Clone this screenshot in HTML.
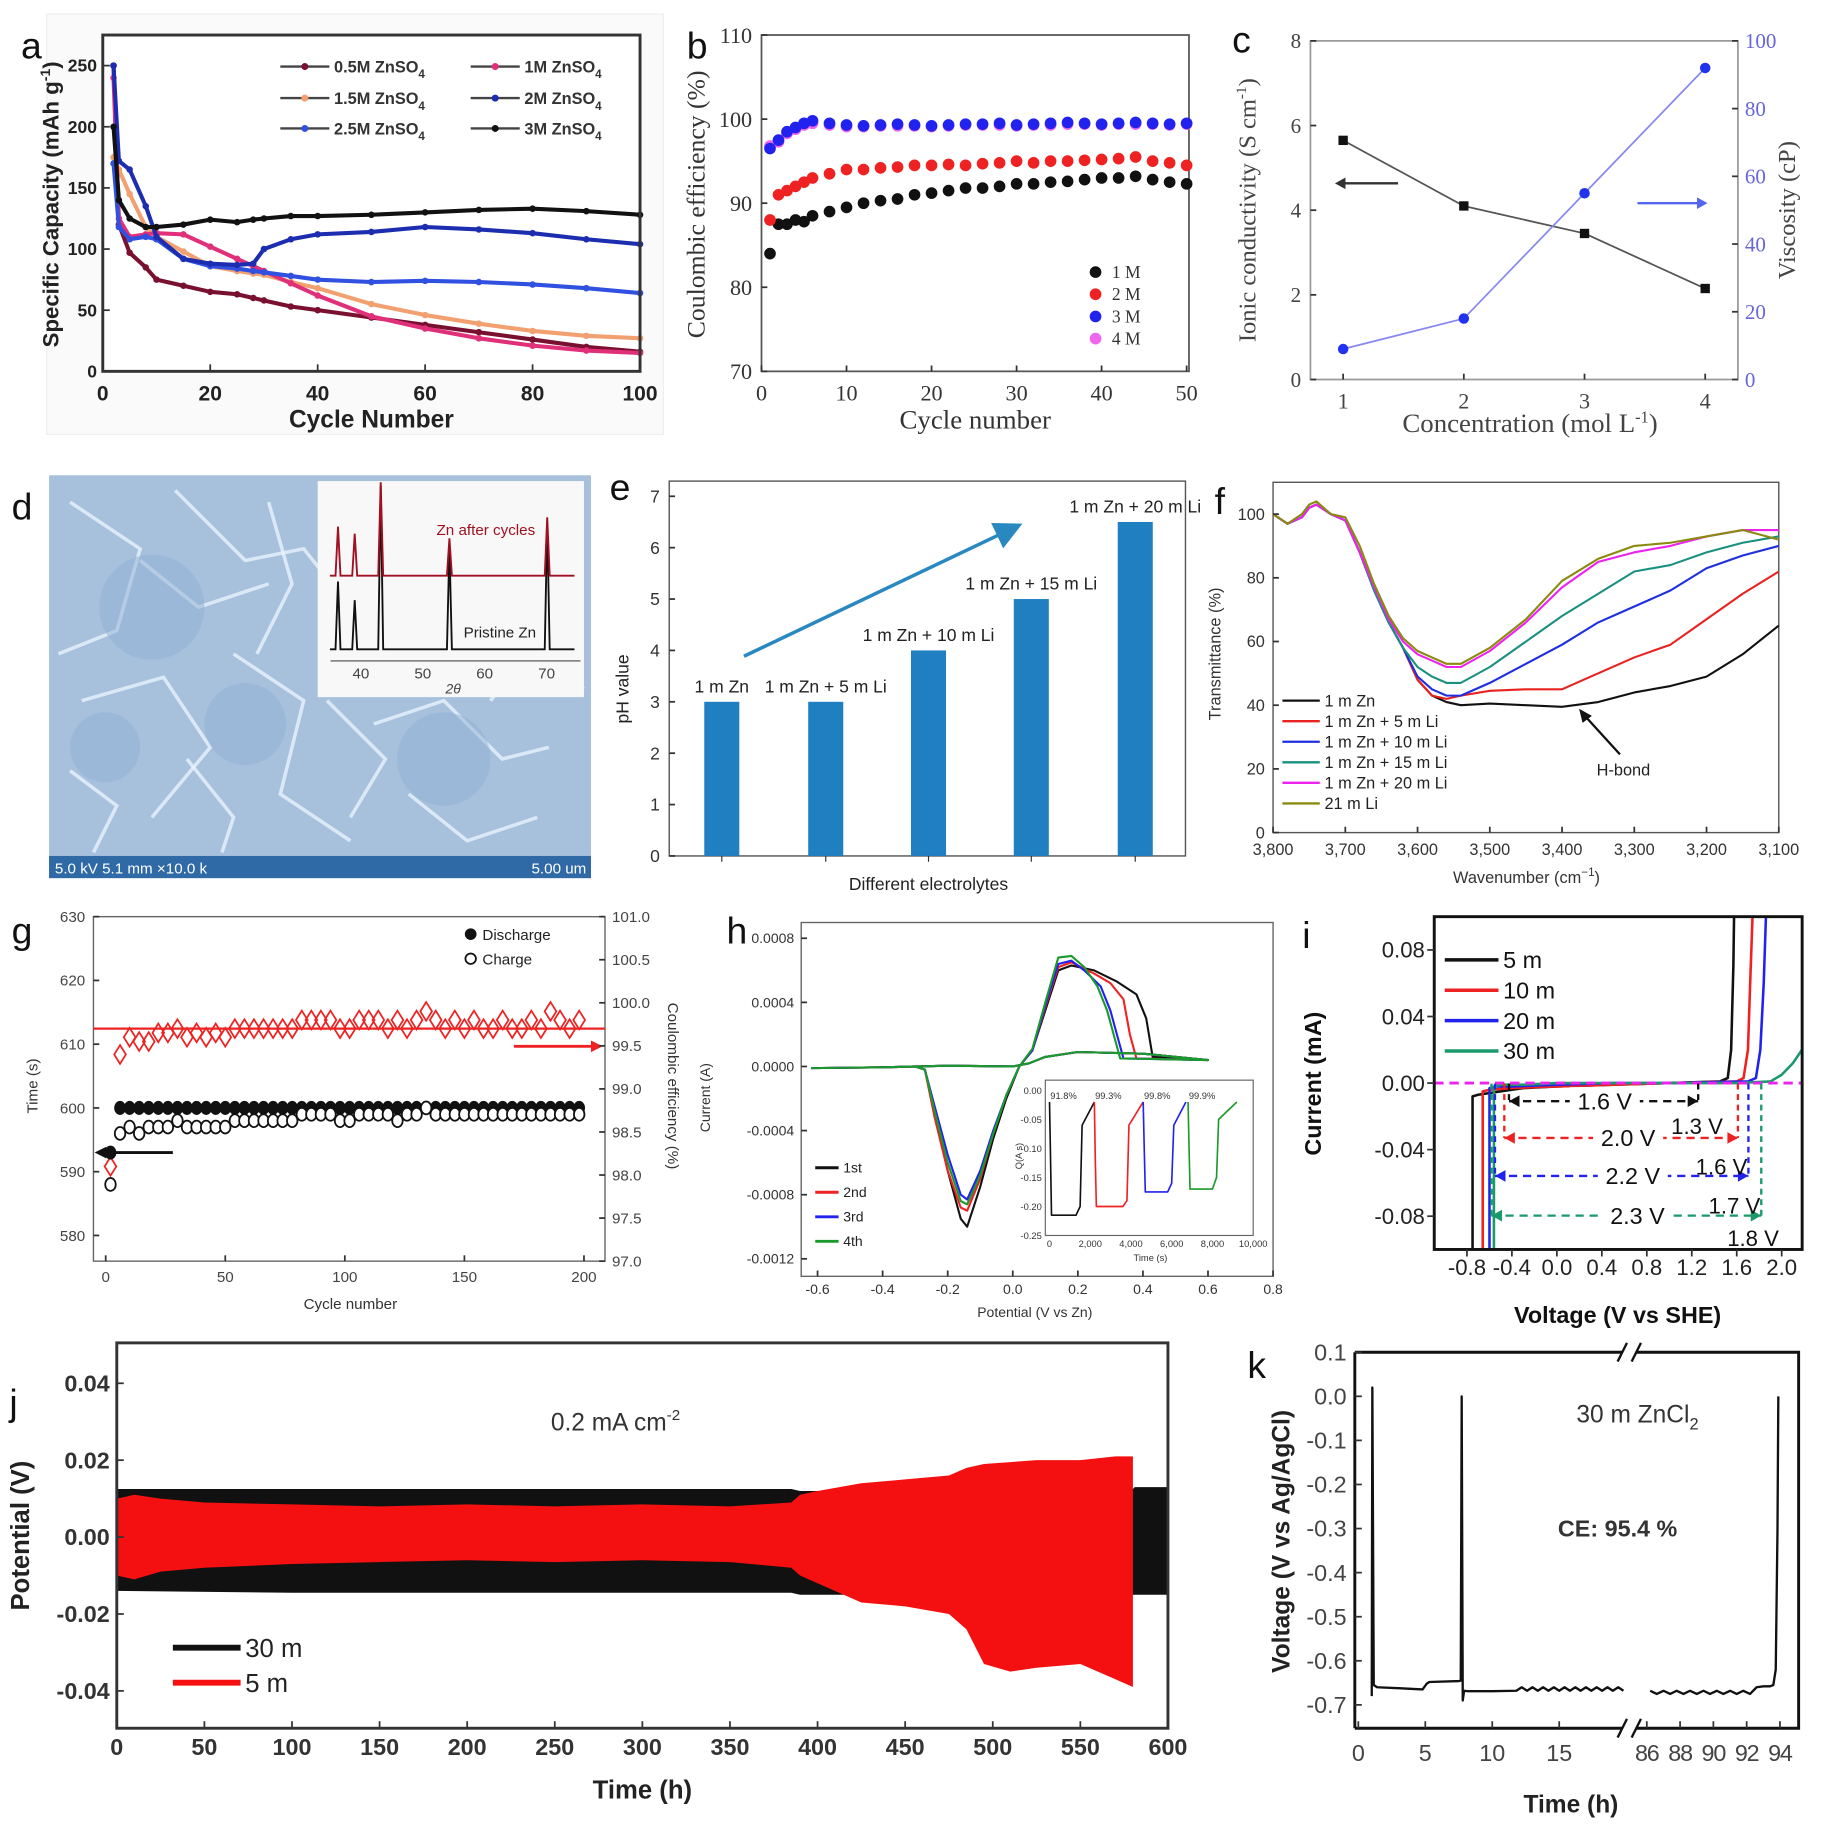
<!DOCTYPE html>
<html><head><meta charset="utf-8">
<style>
html,body{margin:0;padding:0;background:#fff;}
svg{display:block;font-family:"Liberation Sans",sans-serif;}
</style></head>
<body>
<svg id="fig" width="1822" height="1831" viewBox="0 0 1560 1568" preserveAspectRatio="none" xmlns="http://www.w3.org/2000/svg">
<defs>
<clipPath id="clipI"><rect x="1228" y="785" width="315" height="285"/></clipPath>
<marker id="arrB" markerWidth="8" markerHeight="8" refX="6" refY="4" orient="auto"><path d="M0,0 L8,4 L0,8 z" fill="#2a88c0"/></marker>
</defs>
</svg>
<script>
// ---------- data ----------
const aCyc=[2,3,5,8,10,15,20,25,28,30,35,40,50,60,70,80,90,100];
const a05=[250,120,97,85,75,70,65,63,60,58,53,50,44,38,32,26,20,16];
const a10=[240,125,110,112,113,112,102,92,86,82,72,62,45,35,27,21,17,15];
const a15=[175,165,145,118,110,98,86,82,80,79,73,68,55,46,39,33,29,27];
const a20=[250,172,165,135,110,92,88,87,88,100,108,112,114,118,116,113,108,104];
const a25=[170,118,108,110,108,92,86,84,82,81,78,75,73,74,73,71,68,64];
const a30=[200,140,125,118,118,120,124,122,124,125,127,127,128,130,132,133,131,128];
const aXT=[0,20,40,60,80,100];
const aYT=[0,50,100,150,200,250];

const bCyc=[1,2,3,4,5,6,8,10,12,14,16,18,20,22,24,26,28,30,32,34,36,38,40,42,44,46,48,50];
const b1=[84,87.5,87.5,88,87.8,88.5,89,89.5,90,90.3,90.5,91,91.2,91.5,91.8,91.8,92,92.3,92.3,92.5,92.6,92.8,93,93,93.2,92.8,92.5,92.3];
const b2=[88,91,91.5,92,92.5,93,93.5,94,94,94.2,94.3,94.5,94.5,94.6,94.5,94.7,94.8,95,94.8,95,95,95.1,95.2,95.3,95.5,95,94.8,94.5];
const b3=[96.5,97.5,98.5,99,99.5,99.8,99.5,99.3,99.2,99.3,99.4,99.3,99.2,99.3,99.4,99.4,99.5,99.3,99.4,99.5,99.6,99.5,99.4,99.5,99.6,99.5,99.4,99.5];
const b4=[96.8,97.3,98.3,98.8,99.3,99.5,99.3,99.1,99.1,99.2,99.2,99.2,99.1,99.2,99.3,99.3,99.3,99.2,99.3,99.3,99.4,99.4,99.3,99.4,99.4,99.4,99.3,99.4];
const bXT=[0,10,20,30,40,50];
const bYT=[70,80,90,100,110];

const cConc=[1,2,3,4];
const cCond=[5.65,4.1,3.45,2.15];
const cVisc=[9,18,55,92];
const cXT=[1,2,3,4];
const cYL=[0,2,4,6,8];
const cYR=[0,20,40,60,80,100];

const dTheta=[36.3,39,43.2,54.3,70.1];
const dRedH=[42,36,80,32,50];
const dBlkH=[58,42,140,88,108];

const eNames=["1 m Zn","1 m Zn + 5 m Li","1 m Zn + 10 m Li","1 m Zn + 15 m Li","1 m Zn + 20 m Li"];
const ePH=[3,3,4,5,6.5];
const eYT=[0,1,2,3,4,5,6,7];

const fWN=[3800,3780,3760,3750,3740,3720,3700,3680,3660,3640,3620,3600,3580,3560,3540,3500,3450,3400,3350,3300,3250,3200,3150,3100];
const fZn=[100,97,99,102,103,100,98,88,76,66,58,48,43,41,40,40.5,40,39.5,41,44,46,49,56,65];
const fLi5=[100,97,99,102,103,100,98,88,76,66,58,48,43,42,43,44.5,45,45,50,55,59,67,75,82];
const fLi10=[100,97,99,102,103,100,98,88,76,66,58,49,45,43,43,47,53,59,66,71,76,83,87,90];
const fLi15=[100,97,99,102,103,100,98,88,76,66,58,52,49,47,47,52,60,68,75,82,84,88,91,93];
const fLi20=[100,97,99,102,103,100,98,88,77,67,60,56,54,52,52,57,66,77,85,88,90,93,95,95];
const fLi21=[100,97,100,103,104,100,99,90,78,68,61,57,55,53,53,58,67,79,86,90,91,93,95,92];
const fXT=[3800,3700,3600,3500,3400,3300,3200,3100];
const fYT=[0,20,40,60,80,100];

const gCyc=[2,6,10,14,18,22,26,30,34,38,42,46,50,54,58,62,66,70,74,78,82,86,90,94,98,102,106,110,114,118,122,126,130,134,138,142,146,150,154,158,162,166,170,174,178,182,186,190,194,198];
const gDis=[593,600,600,600,600,600,600,600,600,600,600,600,600,600,600,600,600,600,600,600,600,600,600,600,600,600,600,600,600,600,600,600,600,600,600,600,600,600,600,600,600,600,600,600,600,600,600,600,600,600];
const gChg=[588,596,597,596,597,597,597,598,597,597,597,597,597,598,598,598,598,598,598,598,599,599,599,599,598,598,599,599,599,599,598,599,599,600,599,599,599,599,599,599,599,599,599,599,599,599,599,599,599,599];
const gCE=[98.1,99.4,99.6,99.55,99.55,99.65,99.65,99.7,99.6,99.65,99.6,99.65,99.6,99.7,99.7,99.7,99.7,99.7,99.7,99.7,99.8,99.8,99.8,99.8,99.7,99.7,99.8,99.8,99.8,99.7,99.8,99.7,99.8,99.9,99.8,99.7,99.8,99.7,99.8,99.7,99.7,99.8,99.7,99.7,99.8,99.7,99.9,99.8,99.7,99.8];
const gXT=[0,50,100,150,200];
const gYL=[580,590,600,610,620,630];
const gYR=[97.0,97.5,98.0,98.5,99.0,99.5,100.0,100.5,101.0];

const hV1=[-0.62,-0.4,-0.3,-0.27,-0.24,-0.2,-0.16,-0.14,-0.1,-0.06,-0.02,0.02,0.06,0.1,0.14,0.18,0.25,0.32,0.38,0.41,0.43,0.6,0.4,0.2,0.1,0.05,0,-0.2,-0.4,-0.62];
const hI1=[-0.1,-0.05,0,-0.2,-3,-6.5,-9.5,-10,-7.5,-4.5,-2,0,1,3.5,6,6.3,6,5.3,4.5,3,0.6,0.4,0.8,0.9,0.6,0.2,0,0.05,-0.05,-0.1];
const hV2=[-0.62,-0.4,-0.3,-0.27,-0.24,-0.2,-0.16,-0.14,-0.1,-0.06,-0.02,0.02,0.06,0.1,0.14,0.18,0.25,0.3,0.34,0.36,0.38,0.6,0.4,0.2,0.1,0.05,0,-0.2,-0.4,-0.62];
const hI2=[-0.1,-0.05,0,-0.2,-3.2,-6.5,-8.8,-9,-7,-4.2,-1.8,0,1,3.7,6.2,6.5,5.8,5.2,4.2,2,0.5,0.4,0.8,0.9,0.6,0.2,0,0.05,-0.05,-0.1];
const hV3=[-0.62,-0.4,-0.3,-0.27,-0.24,-0.2,-0.16,-0.14,-0.1,-0.06,-0.02,0.02,0.06,0.1,0.14,0.18,0.22,0.27,0.3,0.32,0.34,0.6,0.4,0.2,0.1,0.05,0,-0.2,-0.4,-0.62];
const hI3=[-0.1,-0.05,0,-0.2,-2.5,-5.5,-8,-8.3,-6.5,-4,-1.8,0,1,3.8,6.4,6.6,6,5,3.5,2,0.5,0.4,0.8,0.9,0.6,0.2,0,0.05,-0.05,-0.1];
const hV4=[-0.62,-0.4,-0.3,-0.27,-0.24,-0.2,-0.16,-0.14,-0.1,-0.06,-0.02,0.02,0.06,0.1,0.14,0.18,0.22,0.26,0.29,0.31,0.33,0.6,0.4,0.2,0.1,0.05,0,-0.2,-0.4,-0.62];
const hI4=[-0.1,-0.05,0,-0.2,-2.8,-6,-8.4,-8.6,-6.8,-4.2,-1.8,0,1.1,4,6.8,6.9,6.2,5,3.5,2,0.5,0.4,0.8,0.9,0.6,0.2,0,0.05,-0.05,-0.1];
const hXT=[-0.6,-0.4,-0.2,0,0.2,0.4,0.6,0.8];
const hXL=["-0.6","-0.4","-0.2","0.0","0.2","0.4","0.6","0.8"];
const hYT=[8,4,0,-4,-8,-12];
const hYL=["0.0008","0.0004","0.0000","-0.0004","-0.0008","-0.0012"];
const qT1=[0,50,100,1300,1500,1600,2200];
const qQ1=[-0.02,-0.12,-0.215,-0.215,-0.2,-0.06,-0.02];
const qT2=[2200,2250,2300,3600,3800,3900,4600];
const qQ2=[-0.02,-0.12,-0.2,-0.2,-0.19,-0.06,-0.02];
const qT3=[4600,4650,4700,5800,6000,6100,6700];
const qQ3=[-0.02,-0.1,-0.175,-0.175,-0.16,-0.06,-0.02];
const qT4=[6800,6850,6900,8000,8200,8300,9200];
const qQ4=[-0.02,-0.1,-0.17,-0.17,-0.15,-0.05,-0.02];
const qCE=["91.8%","99.3%","99.8%","99.9%"];

const i5V=[-0.75,-0.75,-0.7,-0.5,-0.3,0,0.5,1.0,1.45,1.52,1.55,1.57,1.58];
const i5I=[-0.12,-0.008,-0.007,-0.005,-0.003,-0.002,-0.001,0,0.001,0.003,0.02,0.07,0.12];
const i10V=[-0.66,-0.66,-0.6,-0.4,0,0.5,1.0,1.6,1.66,1.7,1.72,1.74,1.75];
const i10I=[-0.12,-0.005,-0.004,-0.003,-0.002,-0.001,0,0.001,0.003,0.02,0.06,0.1,0.12];
const i20V=[-0.6,-0.6,-0.55,-0.4,0,0.5,1.0,1.7,1.77,1.81,1.84,1.86,1.87];
const i20I=[-0.12,-0.003,-0.002,-0.002,-0.001,0,0,0.001,0.003,0.02,0.06,0.1,0.12];
const i30V=[-0.56,-0.56,-0.5,-0.3,0,0.5,1.0,1.6,1.9,2.0,2.1,2.2,2.25];
const i30I=[-0.12,-0.002,-0.001,-0.001,0,0,0,0,0.001,0.005,0.012,0.022,0.03];
const iXT=[-0.8,-0.4,0,0.4,0.8,1.2,1.6,2.0];
const iXL=["-0.8","-0.4","0.0","0.4","0.8","1.2","1.6","2.0"];
const iYT=[0.08,0.04,0,-0.04,-0.08];
const iYL=["0.08","0.04","0.00","-0.04","-0.08"];

const jT=[0,10,25,50,100,150,200,250,300,350,385,390,400,425,450,475,485,495,510,525,550,570,580];
const jRedTop=[0.010,0.011,0.010,0.009,0.0085,0.008,0.0085,0.008,0.0085,0.008,0.009,0.011,0.012,0.014,0.015,0.016,0.018,0.019,0.0195,0.020,0.020,0.021,0.021];
const jRedBot=[-0.010,-0.011,-0.009,-0.008,-0.007,-0.0065,-0.006,-0.0065,-0.006,-0.0065,-0.008,-0.010,-0.012,-0.017,-0.018,-0.020,-0.024,-0.033,-0.035,-0.034,-0.033,-0.037,-0.039];
const jBT=[0,100,200,300,385,390,500,580,581,600];
const jBTop=[0.0125,0.0125,0.0125,0.0125,0.0125,0.012,0.012,0.0125,0.013,0.013];
const jBBot=[-0.014,-0.0145,-0.0145,-0.0145,-0.0145,-0.015,-0.015,-0.015,-0.015,-0.015];
const jXT=[0,50,100,150,200,250,300,350,400,450,500,550,600];
const jYT=[0.04,0.02,0,-0.02,-0.04];
const jYL=["0.04","0.02","0.00","-0.02","-0.04"];

const kTL=[1.0,1.05,1.15,1.4,3,4.8,5.1,5.3,7.5,7.65,7.72,7.8,7.9,8.2,10,11.8,12.2,12.6,13.0,13.4,13.8,14.2,14.6,15.0,15.4,15.8,16.2,16.6,17.0,17.4,17.8,18.2,18.6,19.0,19.4,19.8];
const kVL=[-0.68,0.02,-0.655,-0.66,-0.662,-0.665,-0.652,-0.648,-0.646,-0.645,0.0,-0.69,-0.668,-0.669,-0.669,-0.668,-0.660,-0.668,-0.660,-0.668,-0.660,-0.668,-0.660,-0.668,-0.660,-0.668,-0.660,-0.668,-0.660,-0.668,-0.660,-0.668,-0.660,-0.668,-0.660,-0.668];
const kTR=[86.2,86.6,87.0,87.4,87.8,88.2,88.6,89.0,89.4,89.8,90.2,90.6,91.0,91.4,91.8,92.2,92.6,93.0,93.4,93.6,93.75,93.85,93.9];
const kVR=[-0.668,-0.675,-0.668,-0.675,-0.668,-0.675,-0.668,-0.675,-0.668,-0.675,-0.668,-0.675,-0.668,-0.675,-0.668,-0.675,-0.660,-0.658,-0.658,-0.655,-0.62,-0.3,0.0];
const kXTL=[0,5,10,15];
const kXTR=[86,88,90,92,94];
const kYT=[0.1,0,-0.1,-0.2,-0.3,-0.4,-0.5,-0.6,-0.7];
const kYL=["0.1","0.0","-0.1","-0.2","-0.3","-0.4","-0.5","-0.6","-0.7"];

// ---------- helpers ----------
const NS='http://www.w3.org/2000/svg';
const fig=document.getElementById('fig');
function mk(tag,attrs,parent,name){
  const el=document.createElementNS(NS,tag);
  for(const k in attrs) el.setAttribute(k,attrs[k]);
  
  
  parent.appendChild(el);
  return el;
}
function txt(p,x,y,s,size,name,extra){const t=mk('text',Object.assign({x:x,y:y,'font-size':size},extra||{}),p,name);t.textContent=s;return t;}
function rtxt(p,x,y,s,size,name,extra,ang){const t=mk('text',Object.assign({x:0,y:0,'font-size':size,'text-anchor':'middle',transform:'translate('+x+','+y+') rotate('+(ang||-90)+')'},extra||{}),p,name);t.textContent=s;return t;}
function lin(d0,d1,r0,r1){return v=>r0+(v-d0)/(d1-d0)*(r1-r0);}
function grp(name){return mk('g',{},fig,name);}
function pts(xs,ys,sx,sy){return xs.map((v,i)=>sx(v).toFixed(1)+','+sy(ys[i]).toFixed(1)).join(' ');}
function pline(p,xs,ys,sx,sy,attrs,name){return mk('polyline',Object.assign({points:pts(xs,ys,sx,sy),fill:'none','stroke-linejoin':'round'},attrs),p,name);}
function frame(p,x0,y0,x1,y1,stroke,w,name){return mk('rect',{x:x0,y:y0,width:x1-x0,height:y1-y0,fill:'none',stroke:stroke,'stroke-width':w},p,name);}
function xt(p,vals,labels,sx,yb,len,ly,size,extra,name){vals.forEach((v,i)=>{mk('line',{x1:sx(v),x2:sx(v),y1:yb,y2:yb-len,stroke:'#333','stroke-width':1.5},p,name+'-tick');txt(p,sx(v),ly,labels[i],size,name+'-label',Object.assign({'text-anchor':'middle'},extra||{}));});}
function yt(p,vals,labels,sy,xb,len,lx,size,extra,name,anchor){vals.forEach((v,i)=>{mk('line',{x1:xb,x2:xb+len,y1:sy(v),y2:sy(v),stroke:'#333','stroke-width':1.5},p,name+'-tick');txt(p,lx,sy(v)+size*0.35,labels[i],size,name+'-label',Object.assign({'text-anchor':anchor||'end'},extra||{}));});}
function letter(x,y,s){txt(fig,x,y,s,32,'panel-label-'+s,{fill:'#111'});}

// ---------- panel a ----------
(function(){
const g=grp('panel-a');
const sx=lin(0,100,88,548), sy=lin(0,275,318,30);
mk('rect',{x:40,y:12,width:528,height:360,fill:'#fafafa',stroke:'#eee'},g,'panel-a-background');
mk('rect',{x:88,y:30,width:460,height:288,fill:'#fff'},g,'plot-area');
const series=[[a05,'#7a1030','0.5M'],[a15,'#f2a070','1.5M'],[a10,'#e0307a','1M'],[a25,'#3050e0','2.5M'],[a20,'#1d2db0','2M'],[a30,'#111','3M']];
series.forEach(s=>{
  pline(g,aCyc,s[0],sx,sy,{stroke:s[1],'stroke-width':3.5},'series-'+s[2]);
  s[0].forEach((v,i)=>mk('circle',{cx:sx(aCyc[i]),cy:sy(v),r:2.8,fill:s[1]},g,'point-'+s[2]));
});
frame(g,88,30,548,318,'#333',2.5,'plot-frame');
xt(g,aXT,aXT.map(String),sx,318,6,343,18,{'font-weight':'bold',fill:'#222'},'x-axis');
yt(g,aYT,aYT.map(String),sy,88,6,83,15,{'font-weight':'bold',fill:'#222'},'y-axis');
txt(g,318,366,'Cycle  Number',21,'x-axis-title',{'text-anchor':'middle','font-weight':'bold',fill:'#222'});
const yt1=rtxt(g,50,175,'',19,'y-axis-title',{'font-weight':'bold',fill:'#222'});
yt1.innerHTML='Specific Capacity (mAh g<tspan dy="-7" font-size="12">-1</tspan><tspan dy="7">)</tspan>';
const leg=[['0.5M','#7a1030',240,57],['1M','#e0307a',403,57],['1.5M','#f2a070',240,84],['2M','#1d2db0',403,84],['2.5M','#3050e0',240,110],['3M','#111',403,110]];
leg.forEach(l=>{
  mk('line',{x1:l[2],x2:l[2]+42,y1:l[3],y2:l[3],stroke:'#444','stroke-width':2},g,'legend-line');
  mk('circle',{cx:l[2]+21,cy:l[3],r:3,fill:l[1]},g,'legend-marker');
  const t=txt(g,l[2]+46,l[3]+5,'',14,'legend-entry',{'font-weight':'bold',fill:'#333'});
  t.innerHTML=l[0]+'  ZnSO<tspan dy="5" font-size="10">4</tspan>';
});
letter(18,50,'a');
})();

// ---------- panel b ----------
(function(){
const g=grp('panel-b');
const sx=lin(0,50,652,1016), sy=lin(70,110,318,30);
const F={'font-family':'"Liberation Serif",serif',fill:'#333'};
frame(g,652,30,1018,318,'#555',1.5,'plot-frame');
[[b1,'#111','1M'],[b2,'#ee2222','2M'],[b4,'#ee66ee','4M'],[b3,'#2222ee','3M']].forEach(s=>{
  s[0].forEach((v,i)=>mk('circle',{cx:sx(bCyc[i]),cy:sy(v),r:5,fill:s[1]},g,'point-'+s[2]));
});
xt(g,bXT,bXT.map(String),sx,318,5,343,19,F,'x-axis');
yt(g,bYT,bYT.map(String),sy,652,5,644,19,F,'y-axis');
txt(g,835,367,'Cycle number',23,'x-axis-title',Object.assign({'text-anchor':'middle'},F));
rtxt(g,603,175,'Coulombic efficiency (%)',22,'y-axis-title',F);
[['1 M','#111'],['2 M','#ee2222'],['3 M','#2222ee'],['4 M','#ee66ee']].forEach((l,i)=>{
  mk('circle',{cx:938,cy:233+i*19,r:5,fill:l[1]},g,'legend-marker');
  txt(g,952,238+i*19,l[0],15,'legend-entry',F);
});
letter(588,50,'b');
})();

// ---------- panel c ----------
(function(){
const g=grp('panel-c');
const sx=lin(1,4,1150,1460), syl=lin(0,8,325,35), syr=lin(0,100,325,35);
const F={'font-family':'"Liberation Serif",serif',fill:'#444'};
frame(g,1122,35,1488,325,'#999',1.5,'plot-frame');
pline(g,cConc,cCond,sx,syl,{stroke:'#555','stroke-width':1.5},'conductivity-line');
cCond.forEach((v,i)=>mk('rect',{x:sx(cConc[i])-4,y:syl(v)-4,width:8,height:8,fill:'#111'},g,'conductivity-point'));
pline(g,cConc,cVisc,sx,syr,{stroke:'#8888ee','stroke-width':1.5},'viscosity-line');
cVisc.forEach((v,i)=>mk('circle',{cx:sx(cConc[i]),cy:syr(v),r:4.5,fill:'#2233ee'},g,'viscosity-point'));
xt(g,cXT,cXT.map(String),sx,325,5,350,19,F,'x-axis');
yt(g,cYL,cYL.map(String),syl,1122,5,1114,18,F,'y-axis-left');
yt(g,cYR,cYR.map(String),syr,1483,5,1494,18,{'font-family':'"Liberation Serif",serif',fill:'#6666dd'},'y-axis-right','start');
const xtl=txt(g,1310,370,'',23,'x-axis-title',Object.assign({'text-anchor':'middle'},F));
xtl.innerHTML='Concentration (mol L<tspan dy="-8" font-size="14">-1</tspan><tspan dy="8">)</tspan>';
const ytl=rtxt(g,1075,180,'',21,'y-axis-title-left',F);
ytl.innerHTML='Ionic conductivity (S cm<tspan dy="-8" font-size="13">-1</tspan><tspan dy="8">)</tspan>';
rtxt(g,1537,180,'Viscosity (cP)',21,'y-axis-title-right',F,-90);
mk('line',{x1:1197,y1:157,x2:1146,y2:157,stroke:'#333','stroke-width':2},g,'arrow-left');
mk('path',{d:'M1143,157 l9,-5 l0,10 z',fill:'#333'},g,'arrow-left-head');
mk('line',{x1:1402,y1:174,x2:1458,y2:174,stroke:'#5566ee','stroke-width':2},g,'arrow-right');
mk('path',{d:'M1462,174 l-9,-5 l0,10 z',fill:'#5566ee'},g,'arrow-right-head');
letter(1055,45,'c');
})();

// ---------- panel d ----------
(function(){
const g=grp('panel-d');
mk('rect',{x:42,y:407,width:464,height:345,fill:'#a7c1dd'},g,'sem-image');
const shapes=['M60,430 L120,470 L100,540 L50,560','M150,420 L210,480 L260,470 L300,520','M70,600 L140,580 L180,640 L130,700','M200,560 L260,600 L240,680 L300,720','M320,620 L380,600 L430,650 L470,640','M120,480 L170,520 L230,500','M350,680 L400,720 L460,700','M60,660 L100,690 L80,730','M230,430 L250,500 L220,560','M420,600 L450,560 L500,590','M280,600 L330,650 L300,700','M160,650 L200,700 L190,730'];
shapes.forEach(d=>mk('path',{d:d,fill:'none',stroke:'#e8f1fb','stroke-width':3,opacity:0.8},g,'sem-ridge'));
[[130,520,45],[380,650,40],[210,620,35],[90,640,30]].forEach(c=>mk('circle',{cx:c[0],cy:c[1],r:c[2],fill:'#8fb0d3',opacity:0.5},g,'sem-grain'));
mk('rect',{x:42,y:733,width:464,height:19,fill:'#2f6aa6'},g,'sem-info-bar');
txt(g,47,748,'5.0 kV 5.1 mm ×10.0 k',13,'sem-info-text',{fill:'#fff'});
txt(g,502,748,'5.00 um',13,'sem-scale-text',{fill:'#fff','text-anchor':'end'});
mk('rect',{x:272,y:412,width:228,height:185,fill:'#f8f8f8'},g,'xrd-inset');
const sx=lin(40,70,309,468);
function trace(heights,base,color,name){
  let d='M'+sx(35)+','+base;
  dTheta.forEach((t,i)=>{d+=' L'+sx(t-0.4)+','+base+' L'+sx(t)+','+(base-heights[i])+' L'+sx(t+0.4)+','+base;});
  d+=' L'+sx(74.5)+','+base;
  mk('path',{d:d,fill:'none',stroke:color,'stroke-width':1.6},g,name);
}
trace(dBlkH,556,'#111','xrd-pristine');
trace(dRedH,493,'#a01020','xrd-after-cycles');
mk('line',{x1:283,x2:497,y1:566,y2:566,stroke:'#888','stroke-width':1.5},g,'xrd-x-axis');
[40,50,60,70].forEach(v=>txt(g,sx(v),581,String(v),13,'xrd-tick-label',{'text-anchor':'middle',fill:'#444'}));
txt(g,388,594,'2θ',12,'xrd-x-title',{'text-anchor':'middle','font-style':'italic',fill:'#444'});
txt(g,416,458,'Zn after cycles',13,'xrd-label-after',{'text-anchor':'middle',fill:'#a01020'});
txt(g,428,546,'Pristine Zn',13,'xrd-label-pristine',{'text-anchor':'middle',fill:'#222'});
letter(10,445,'d');
})();

// ---------- panel e ----------
(function(){
const g=grp('panel-e');
const sy=lin(0,7,733,425);
const cx=[618,707,795,883,972];
frame(g,573,412,1015,733,'#555',1.2,'plot-frame');
ePH.forEach((v,i)=>{
  mk('rect',{x:cx[i]-15,y:sy(v),width:30,height:733-sy(v),fill:'#1f7fc1'},g,'bar-'+(i+1));
  txt(g,cx[i],sy(v)-8,eNames[i],15,'bar-label',{'text-anchor':'middle',fill:'#222'});
  mk('line',{x1:cx[i],x2:cx[i],y1:733,y2:738,stroke:'#333'},g,'x-tick');
});
yt(g,eYT,eYT.map(String),sy,573,5,565,15,{fill:'#333'},'y-axis');
rtxt(g,538,590,'pH value',15,'y-axis-title',{fill:'#222'});
txt(g,795,762,'Different electrolytes',15,'x-axis-title',{'text-anchor':'middle',fill:'#222'});
mk('line',{x1:637,y1:562,x2:870,y2:451,stroke:'#2a88c0','stroke-width':3,'marker-end':'url(#arrB)'},g,'trend-arrow');
letter(522,428,'e');
})();

// ---------- panel f ----------
(function(){
const g=grp('panel-f');
const sx=lin(3800,3100,1090,1523), sy=lin(0,110,713,413);
frame(g,1090,413,1523,713,'#555',1.2,'plot-frame');
const S=[[fZn,'#111','1 m Zn'],[fLi5,'#e8231f','1 m Zn + 5 m Li'],[fLi10,'#1f2fe0','1 m Zn + 10 m Li'],[fLi15,'#1a9080','1 m Zn + 15 m Li'],[fLi20,'#ee22ee','1 m Zn + 20 m Li'],[fLi21,'#8a8a10','21 m Li']];
S.forEach(s=>pline(g,fWN,s[0],sx,sy,{stroke:s[1],'stroke-width':1.8},'series-'+s[2].replace(/ /g,'')));
S.forEach((s,i)=>{
  mk('line',{x1:1098,x2:1130,y1:600+i*17.6,y2:600+i*17.6,stroke:s[1],'stroke-width':2},g,'legend-line');
  txt(g,1134,605+i*17.6,s[2],14,'legend-entry',{fill:'#222'});
});
xt(g,fXT,fXT.map(v=>v.toLocaleString('en-US')),sx,713,5,732,14,{fill:'#333'},'x-axis');
yt(g,fYT,fYT.map(String),sy,1090,5,1083,14,{fill:'#333'},'y-axis');
const xtl=txt(g,1307,756,'',14,'x-axis-title',{'text-anchor':'middle',fill:'#333'});
xtl.innerHTML='Wavenumber (cm<tspan dy="-6" font-size="10">−1</tspan><tspan dy="6">)</tspan>';
rtxt(g,1045,560,'Transmittance (%)',14,'y-axis-title',{fill:'#333'});
mk('line',{x1:1387,y1:646,x2:1356,y2:612,stroke:'#111','stroke-width':2},g,'hbond-arrow');
mk('path',{d:'M1352,607 l3,12 l8,-6 z',fill:'#111'},g,'hbond-arrow-head');
txt(g,1390,664,'H-bond',14,'hbond-label',{'text-anchor':'middle',fill:'#222'});
letter(1040,440,'f');
})();

// ---------- panel g ----------
(function(){
const g=grp('panel-g');
const sx=lin(0,200,90.5,500), syl=lin(580,630,1058,785), syr=lin(97,101,1080,785);
frame(g,80,785,518,1080,'#666',1.2,'plot-frame');
mk('line',{x1:80,x2:518,y1:syr(99.7),y2:syr(99.7),stroke:'#e22','stroke-width':2},g,'ce-average-line');
gCE.forEach((v,i)=>mk('path',{d:'M'+sx(gCyc[i])+','+(syr(v)-8)+' l5,8 l-5,8 l-5,-8 z',fill:'none',stroke:'#e22','stroke-width':1.5},g,'ce-point'));
gDis.forEach((v,i)=>mk('ellipse',{cx:sx(gCyc[i]),cy:syl(v),rx:5,ry:6,fill:'#111'},g,'discharge-point'));
gChg.forEach((v,i)=>mk('ellipse',{cx:sx(gCyc[i]),cy:syl(v),rx:4.5,ry:5.5,fill:'#fff',stroke:'#111','stroke-width':1.5},g,'charge-point'));
mk('line',{x1:148,x2:88,y1:987,y2:987,stroke:'#111','stroke-width':2.5},g,'arrow-left');
mk('path',{d:'M81,987 l10,-5 l0,10 z',fill:'#111'},g,'arrow-left-head');
mk('line',{x1:440,x2:508,y1:896,y2:896,stroke:'#e22','stroke-width':2.5},g,'arrow-right');
mk('path',{d:'M516,896 l-10,-5 l0,10 z',fill:'#e22'},g,'arrow-right-head');
xt(g,gXT,gXT.map(String),sx,1080,5,1098,13,{fill:'#444'},'x-axis');
yt(g,gYL,gYL.map(String),syl,80,5,73,13,{fill:'#444'},'y-axis-left');
yt(g,gYR,gYR.map(v=>v.toFixed(1)),syr,513,5,524,13,{fill:'#444'},'y-axis-right','start');
txt(g,300,1121,'Cycle number',13,'x-axis-title',{'text-anchor':'middle',fill:'#333'});
rtxt(g,32,930,'Time (s)',13,'y-axis-title-left',{fill:'#333'});
rtxt(g,572,930,'Coulombic efficiency (%)',13,'y-axis-title-right',{fill:'#333'},90);
mk('circle',{cx:403,cy:800,r:5,fill:'#111'},g,'legend-discharge-marker');
txt(g,413,805,'Discharge',13,'legend-discharge',{fill:'#222'});
mk('circle',{cx:403,cy:821,r:4.5,fill:'#fff',stroke:'#111','stroke-width':1.5},g,'legend-charge-marker');
txt(g,413,826,'Charge',13,'legend-charge',{fill:'#222'});
letter(10,808,'g');
})();

// ---------- panel h ----------
(function(){
const g=grp('panel-h');
const sx=lin(-0.6,0.8,700,1090), sy=lin(8,-12,803.5,1078);
frame(g,686,790,1090,1093,'#666',1.2,'plot-frame');
const S=[[hV1,hI1,'#111','1st'],[hV2,hI2,'#e22','2nd'],[hV3,hI3,'#22e','3rd'],[hV4,hI4,'#1a9a2a','4th']];
S.forEach(s=>pline(g,s[0],s[1],sx,sy,{stroke:s[2],'stroke-width':1.8},'cv-'+s[3]));
xt(g,hXT,hXL,sx,1093,5,1108,12,{fill:'#333'},'x-axis');
yt(g,hYT,hYL,sy,686,5,680,12,{fill:'#333'},'y-axis');
txt(g,886,1128,'Potential (V vs Zn)',12,'x-axis-title',{'text-anchor':'middle',fill:'#333'});
rtxt(g,608,940,'Current (A)',12,'y-axis-title',{fill:'#333'});
S.forEach((s,i)=>{
  mk('line',{x1:698,x2:718,y1:1000+i*21,y2:1000+i*21,stroke:s[2],'stroke-width':2.5},g,'legend-line');
  txt(g,722,1004+i*21,s[3],12,'legend-entry',{fill:'#222'});
});
const qx=lin(0,10000,898.6,1073), qy=lin(0,-0.25,933.8,1058);
mk('rect',{x:895,y:925,width:178,height:133,fill:'#fff',stroke:'#666','stroke-width':1},g,'inset-frame');
[[qT1,qQ1,'#111'],[qT2,qQ2,'#e22'],[qT3,qQ3,'#22e'],[qT4,qQ4,'#1a9a2a']].forEach((s,i)=>{
  pline(g,s[0],s[1],qx,qy,{stroke:s[2],'stroke-width':1.4},'inset-curve');
  txt(g,qx(s[0][0])+12,941,qCE[i],8,'inset-ce-label',{'text-anchor':'middle',fill:'#333'});
});
[0,-0.05,-0.1,-0.15,-0.2,-0.25].forEach(v=>txt(g,892,qy(v)+3,v.toFixed(2),8,'inset-y-label',{'text-anchor':'end',fill:'#333'}));
[0,2000,4000,6000,8000,10000].forEach(v=>txt(g,qx(v),1068,v.toLocaleString('en-US'),8,'inset-x-label',{'text-anchor':'middle',fill:'#333'}));
txt(g,985,1080,'Time (s)',8,'inset-x-title',{'text-anchor':'middle',fill:'#333'});
rtxt(g,875,990,'Q(A s)',8,'inset-y-title',{fill:'#333'});
letter(622,808,'h');
})();

// ---------- panel i ----------
(function(){
const g=grp('panel-i');
const sx=lin(-0.8,2.0,1256,1525.5), sy=lin(0.08,-0.08,813.5,1041.5);
const cl=mk('g',{'clip-path':'url(#clipI)'},g,'plot-lines');
mk('line',{x1:1228,x2:1543,y1:sy(0),y2:sy(0),stroke:'#ee22ee','stroke-width':2.5,'stroke-dasharray':'8,5'},g,'zero-line');
const S=[[i5V,i5I,'#111','5 m'],[i10V,i10I,'#e22','10 m'],[i20V,i20I,'#22e','20 m'],[i30V,i30I,'#1a9a6a','30 m']];
S.forEach(s=>pline(cl,s[0],s[1],sx,sy,{stroke:s[2],'stroke-width':2.2},'lsv-'+s[3].replace(' ','')));
frame(g,1228,785,1543,1070,'#111',2.5,'plot-frame');
xt(g,iXT,iXL,sx,1070,-6,1092,19,{fill:'#222'},'x-axis');
yt(g,iYT,iYL,sy,1228,-6,1220,19,{fill:'#222'},'y-axis');
txt(g,1385,1133,'Voltage (V vs SHE)',20,'x-axis-title',{'text-anchor':'middle','font-weight':'bold',fill:'#111'});
rtxt(g,1131,928,'Current (mA)',20,'y-axis-title',{'font-weight':'bold',fill:'#111'});
S.forEach((s,i)=>{
  mk('line',{x1:1237,x2:1283,y1:822+i*26,y2:822+i*26,stroke:s[2],'stroke-width':3},g,'legend-line');
  txt(g,1287,829+i*26,s[3],20,'legend-entry',{fill:'#111'});
});
const ann=[['#111',943,1292,1454,'1.6 V',1374],['#e22',974.5,1288,1488,'2.0 V',1394],['#22e',1007,1280,1497,'2.2 V',1398],['#1a9a6a',1041,1277,1508,'2.3 V',1402]];
ann.forEach(a=>{
  mk('line',{x1:a[2],x2:a[3],y1:a[1],y2:a[1],stroke:a[0],'stroke-width':2,'stroke-dasharray':'7,5'},g,'window-arrow');
  mk('line',{x1:a[2],x2:a[2],y1:928,y2:a[1],stroke:a[0],'stroke-width':2,'stroke-dasharray':'5,4'},g,'window-guide');
  mk('line',{x1:a[3],x2:a[3],y1:928,y2:a[1],stroke:a[0],'stroke-width':2,'stroke-dasharray':'5,4'},g,'window-guide');
  mk('path',{d:'M'+a[2]+','+a[1]+' l9,-5 l0,10 z',fill:a[0]},g,'window-arrow-head');
  mk('path',{d:'M'+a[3]+','+a[1]+' l-9,-5 l0,10 z',fill:a[0]},g,'window-arrow-head');
  mk('rect',{x:a[5]-30,y:a[1]-12,width:60,height:22,fill:'#fff'},g,'label-bg');
  txt(g,a[5],a[1]+7,a[4],20,'window-label',{'text-anchor':'middle',fill:'#111'});
});
[['1.3 V',1453,964],['1.6 V',1474,999],['1.7 V',1485,1032],['1.8 V',1501,1060]].forEach(l=>txt(g,l[1],l[2]+7,l[0],19,'window-label',{'text-anchor':'middle',fill:'#111'}));
letter(1115,812,'i');
})();

// ---------- panel j ----------
(function(){
const g=grp('panel-j');
const sx=lin(0,600,100,1000), sy=lin(0.04,-0.04,1184.6,1448);
function band(T,top,bot,color,name){
  const up=T.map((t,i)=>sx(t).toFixed(1)+','+sy(top[i]).toFixed(1));
  const dn=T.map((t,i)=>sx(t).toFixed(1)+','+sy(bot[i]).toFixed(1)).reverse();
  mk('polygon',{points:up.concat(dn).join(' '),fill:color},g,name);
}
band(jBT,jBTop,jBBot,'#111','band-30m');
band(jT,jRedTop,jRedBot,'#f41010','band-5m');
frame(g,100,1150,1000,1480,'#333',2.5,'plot-frame');
xt(g,jXT,jXT.map(String),sx,1480,6,1503,20,{fill:'#333','font-weight':'bold'},'x-axis');
yt(g,jYT,jYL,sy,100,6,94,20,{fill:'#333','font-weight':'bold'},'y-axis');
txt(g,550,1540,'Time (h)',22,'x-axis-title',{'text-anchor':'middle','font-weight':'bold',fill:'#222'});
rtxt(g,25,1315,'Potential (V)',22,'y-axis-title',{'font-weight':'bold',fill:'#222'});
const lbl=txt(g,527,1225,'',21,'current-density-label',{'text-anchor':'middle',fill:'#333'});
lbl.innerHTML='0.2 mA cm<tspan dy="-9" font-size="13">-2</tspan>';
mk('line',{x1:148,x2:206,y1:1411,y2:1411,stroke:'#111','stroke-width':5},g,'legend-line-30m');
txt(g,210,1419,'30 m',22,'legend-entry',{fill:'#222'});
mk('line',{x1:148,x2:206,y1:1441,y2:1441,stroke:'#f41010','stroke-width':5},g,'legend-line-5m');
txt(g,210,1449,'5 m',22,'legend-entry',{fill:'#222'});
letter(8,1212,'j');
})();

// ---------- panel k ----------
(function(){
const g=grp('panel-k');
const sxl=lin(0,15,1163,1335), sxr=lin(86,94,1410,1524), sy=lin(0.1,-0.7,1158,1460);
pline(g,kTL,kVL,sxl,sy,{stroke:'#111','stroke-width':2},'voltage-curve-left');
pline(g,kTR,kVR,sxr,sy,{stroke:'#111','stroke-width':2},'voltage-curve-right');
mk('path',{d:'M1160,1158 L1389,1158 M1401,1158 L1540,1158 L1540,1480 L1401,1480 M1389,1480 L1160,1480 Z',fill:'none',stroke:'#111','stroke-width':2.5},g,'plot-frame');
mk('line',{x1:1160,x2:1160,y1:1158,y2:1480,stroke:'#111','stroke-width':2.5},g,'y-axis-line');
[1389,1401].forEach(x=>{
  mk('line',{x1:x-4,x2:x+4,y1:1166,y2:1150,stroke:'#111','stroke-width':2},g,'axis-break');
  mk('line',{x1:x-4,x2:x+4,y1:1488,y2:1472,stroke:'#111','stroke-width':2},g,'axis-break');
});
xt(g,kXTL,kXTL.map(String),sxl,1480,6,1508,20,{fill:'#444'},'x-axis-left');
xt(g,kXTR,kXTR.map(String),sxr,1480,6,1508,20,{fill:'#444','letter-spacing':'-1'},'x-axis-right');
yt(g,kYT,kYL,sy,1160,6,1153,20,{fill:'#444'},'y-axis');
txt(g,1345,1552,'Time (h)',21,'x-axis-title',{'text-anchor':'middle','font-weight':'bold',fill:'#222'});
rtxt(g,1104,1320,'Voltage (V vs Ag/AgCl)',21,'y-axis-title',{'font-weight':'bold',fill:'#222'});
const t=txt(g,1402,1218,'',21,'electrolyte-label',{'text-anchor':'middle',fill:'#333'});
t.innerHTML='30 m ZnCl<tspan dy="6" font-size="14">2</tspan>';
txt(g,1385,1316,'CE: 95.4 %',20,'ce-label',{'text-anchor':'middle','font-weight':'bold',fill:'#333'});
letter(1068,1180,'k');
})();
</script>
</body></html>
